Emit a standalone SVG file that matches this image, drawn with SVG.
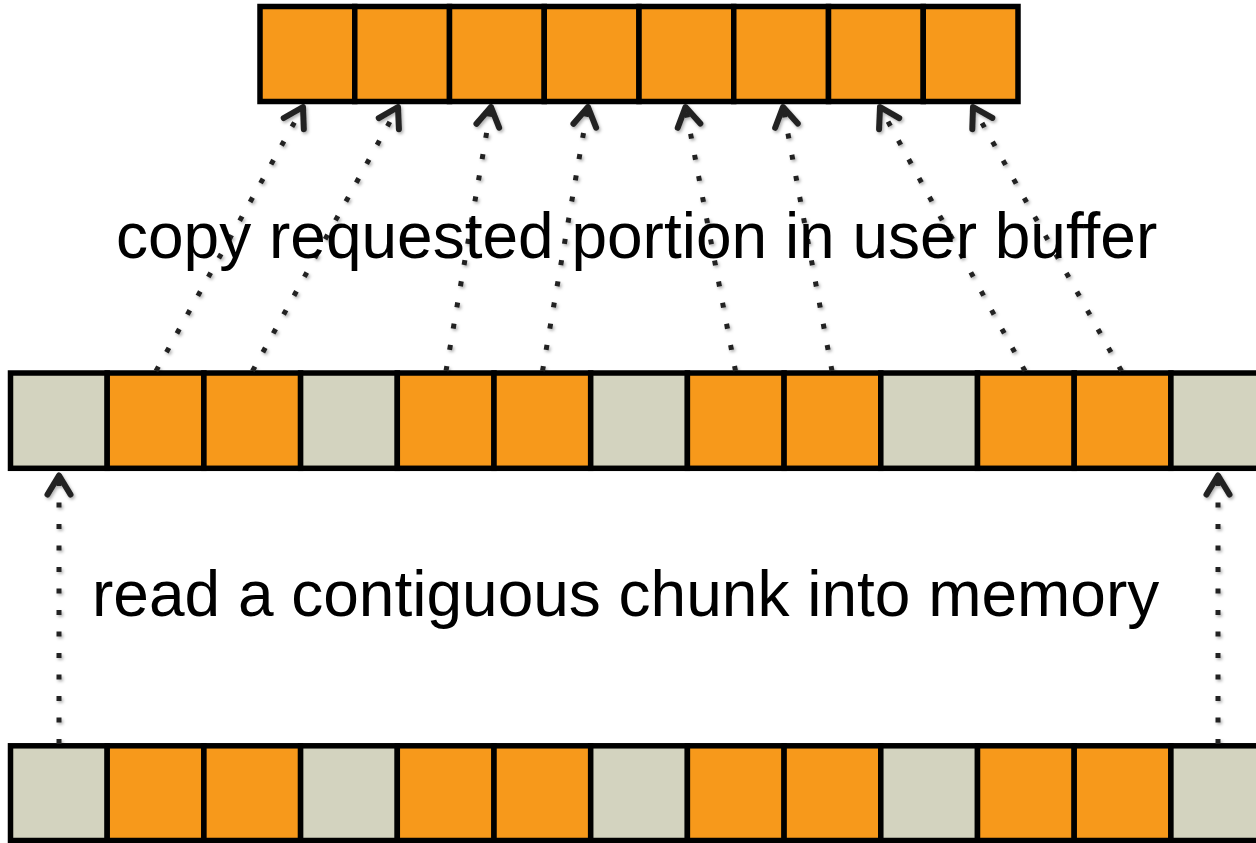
<svg xmlns="http://www.w3.org/2000/svg" width="1256" height="843" viewBox="0 0 1256 843">
  <style>
    .cell { stroke: #000; stroke-width: 5.5; }
    .on { fill: #F7991B; }
    .off { fill: #D3D3BF; }
    .link { fill: none; stroke: #222; stroke-width: 5; stroke-dasharray: 5 16.5; marker-end: url(#chev); }
    .label { font-family: "Liberation Sans", Arial, sans-serif; font-size: 64px; fill: #000; }
  </style>
  <defs>
    <marker id="chev" markerUnits="userSpaceOnUse" orient="auto" refX="0" refY="0" markerWidth="40" markerHeight="40" viewBox="-25 -20 40 40" overflow="visible">
      <path d="M-19,-11.5 L0,0 L-19,11.5" fill="none" stroke="#222" stroke-width="6" stroke-linecap="round" stroke-linejoin="round"/>
    </marker>
    <filter id="shade" x="-20%" y="-20%" width="140%" height="140%">
      <feDropShadow dx="1.5" dy="2" stdDeviation="1.6" flood-color="#000" flood-opacity="0.3"/>
    </filter>
  </defs>
  <rect width="1256" height="843" fill="#fff"/>

  <!-- user buffer: 8 requested cells -->
  <g id="user-buffer">
    <rect class="cell on" x="260" y="6.5" width="94.75" height="95"/>
    <rect class="cell on" x="354.75" y="6.5" width="94.75" height="95"/>
    <rect class="cell on" x="449.5" y="6.5" width="94.75" height="95"/>
    <rect class="cell on" x="544.25" y="6.5" width="94.75" height="95"/>
    <rect class="cell on" x="639" y="6.5" width="94.75" height="95"/>
    <rect class="cell on" x="733.75" y="6.5" width="94.75" height="95"/>
    <rect class="cell on" x="828.5" y="6.5" width="94.75" height="95"/>
    <rect class="cell on" x="923.25" y="6.5" width="94.75" height="95"/>
  </g>

  <!-- chunk held in memory -->
  <g id="memory-chunk">
    <rect class="cell off" x="10.5" y="373" width="96.7" height="95.3"/>
    <rect class="cell on" x="107.2" y="373" width="96.7" height="95.3"/>
    <rect class="cell on" x="203.9" y="373" width="96.7" height="95.3"/>
    <rect class="cell off" x="300.6" y="373" width="96.7" height="95.3"/>
    <rect class="cell on" x="397.3" y="373" width="96.7" height="95.3"/>
    <rect class="cell on" x="494" y="373" width="96.7" height="95.3"/>
    <rect class="cell off" x="590.7" y="373" width="96.7" height="95.3"/>
    <rect class="cell on" x="687.4" y="373" width="96.7" height="95.3"/>
    <rect class="cell on" x="784.1" y="373" width="96.7" height="95.3"/>
    <rect class="cell off" x="880.8" y="373" width="96.7" height="95.3"/>
    <rect class="cell on" x="977.5" y="373" width="96.7" height="95.3"/>
    <rect class="cell on" x="1074.2" y="373" width="96.7" height="95.3"/>
    <rect class="cell off" x="1170.9" y="373" width="96.7" height="95.3"/>
  </g>

  <!-- data on disk -->
  <g id="disk-data">
    <rect class="cell off" x="10.5" y="745.8" width="96.7" height="94.7"/>
    <rect class="cell on" x="107.2" y="745.8" width="96.7" height="94.7"/>
    <rect class="cell on" x="203.9" y="745.8" width="96.7" height="94.7"/>
    <rect class="cell off" x="300.6" y="745.8" width="96.7" height="94.7"/>
    <rect class="cell on" x="397.3" y="745.8" width="96.7" height="94.7"/>
    <rect class="cell on" x="494" y="745.8" width="96.7" height="94.7"/>
    <rect class="cell off" x="590.7" y="745.8" width="96.7" height="94.7"/>
    <rect class="cell on" x="687.4" y="745.8" width="96.7" height="94.7"/>
    <rect class="cell on" x="784.1" y="745.8" width="96.7" height="94.7"/>
    <rect class="cell off" x="880.8" y="745.8" width="96.7" height="94.7"/>
    <rect class="cell on" x="977.5" y="745.8" width="96.7" height="94.7"/>
    <rect class="cell on" x="1074.2" y="745.8" width="96.7" height="94.7"/>
    <rect class="cell off" x="1170.9" y="745.8" width="96.7" height="94.7"/>
  </g>

  <g id="connectors" filter="url(#shade)">
    <!-- copy: memory chunk -> user buffer -->
    <path class="link" d="M156,371 L303,107"/>
    <path class="link" d="M252.5,371 L398,107"/>
    <path class="link" d="M446,371 L491,107"/>
    <path class="link" d="M542.5,371 L588,107"/>
    <path class="link" d="M735.5,371 L685.5,107"/>
    <path class="link" d="M832,371 L783,107"/>
    <path class="link" d="M1025,371 L880,107"/>
    <path class="link" d="M1121.5,371 L973,107"/>
    <!-- read: disk -> memory chunk -->
    <path class="link" d="M59,744 L59,475.5"/>
    <path class="link" d="M1218,744 L1218,475.5"/>
  </g>

  <g id="labels">
    <text class="label" x="116" y="258">copy requested portion in user buffer</text>
    <text class="label" x="92" y="616">read a contiguous chunk into memory</text>
  </g>
</svg>
